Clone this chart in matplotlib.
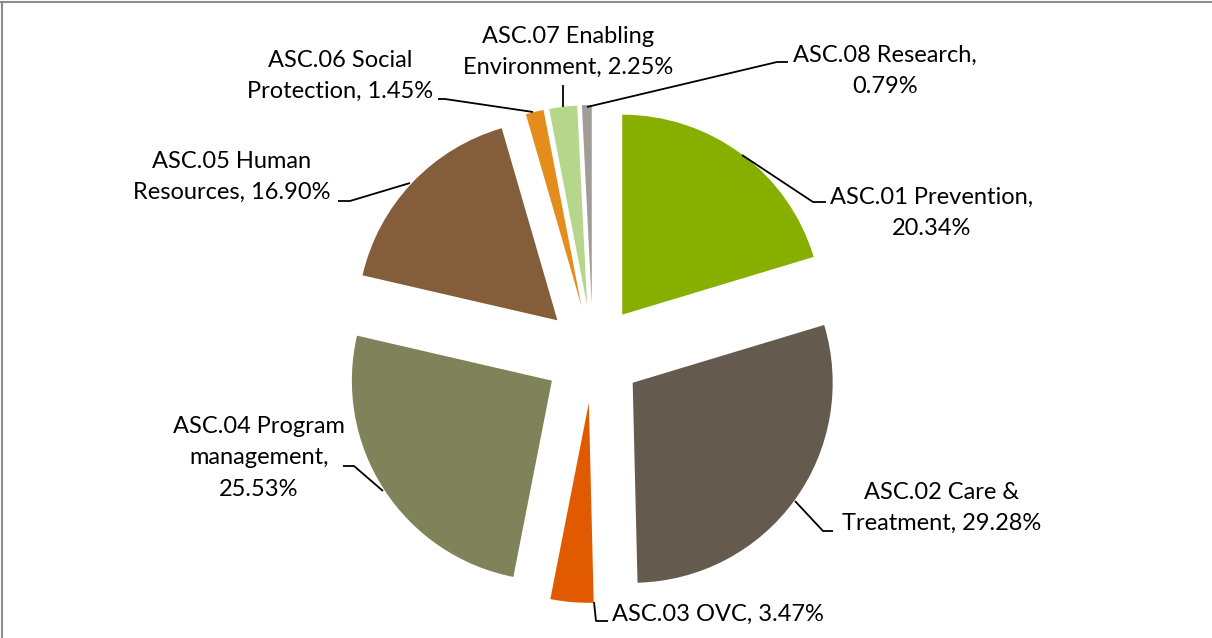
import matplotlib.pyplot as plt

# slice data
labels = ["ASC.01 Prevention", "ASC.02 Care & Treatment", "ASC.03 OVC",
          "ASC.04 Program management", "ASC.05 Human Resources",
          "ASC.06 Social Protection", "ASC.07 Enabling Environment",
          "ASC.08 Research"]
shares = [20.34, 29.28, 3.47, 25.53, 16.90, 1.45, 2.25, 0.79]
colors = ["#86AF00", "#645A4E", "#E25A00", "#808259",
          "#845E3B", "#E48D1C", "#B6D78B", "#A09D98"]

# label text as it is wrapped in the picture
label_text = [
    "ASC.01 Prevention,\n20.34%",
    "ASC.02 Care &\nTreatment, 29.28%",
    "ASC.03 OVC, 3.47%",
    "ASC.04 Program\nmanagement,\n25.53%",
    "ASC.05 Human\nResources, 16.90%",
    "ASC.06 Social\nProtection, 1.45%",
    "ASC.07 Enabling\nEnvironment, 2.25%",
    "ASC.08 Research,\n0.79%",
]

W, H = 1212, 638

# layout in image pixels (y measured from top)
label_pos = [(932, 213), (942, 508), (612, 614), (259, 458),
             (232, 177), (340, 76), (568, 52), (885, 71)]
label_ha = ["center", "center", "left", "center",
            "center", "center", "center", "center"]
leaders = [
    [(742, 155), (813, 202), (826, 202)],
    [(795, 501), (823, 531), (833, 531)],
    [(594, 602), (596, 621), (608, 621)],
    [(383, 491), (354, 466), (343, 466)],
    [(410, 183), (350, 201), (338, 201)],
    [(533, 112), (445, 99), (438, 99)],
    [(563, 107), (563, 85)],
    [(587, 107), (777, 62), (788, 62)],
]

plt.rcParams['font.family'] = ['Lato', 'DejaVu Sans']

fig = plt.figure(figsize=(W / 100, H / 100), dpi=100)
ax = fig.add_axes([0, 0, 1, 1])

# pie in pixel units: radius 200 px, slices pulled out by 49 px
ax.pie(shares, explode=[49] * len(shares), colors=colors,
       startangle=90, counterclock=False, radius=200,
       center=(593, H - 354), wedgeprops=dict(linewidth=0))

for txt, (x, y), ha in zip(label_text, label_pos, label_ha):
    ax.text(x, H - y, txt, ha=ha, va="center", fontsize=17,
            linespacing=1.6, multialignment="center", color="black")

for path in leaders:
    xs = [p[0] for p in path]
    ys = [H - p[1] for p in path]
    ax.plot(xs, ys, color="black", linewidth=1.3, solid_capstyle="butt")

# chart frame edges (top and left are visible in the crop)
ax.plot([0, W], [H - 2, H - 2], color="#8C8C8C", linewidth=1.5)
ax.plot([1.5, 1.5], [0, H - 2], color="#8C8C8C", linewidth=1.5)

ax.set_xlim(0, W)
ax.set_ylim(0, H)
ax.set_aspect("auto")
ax.axis("off")

fig.savefig("out.png", dpi=100, facecolor="white")
